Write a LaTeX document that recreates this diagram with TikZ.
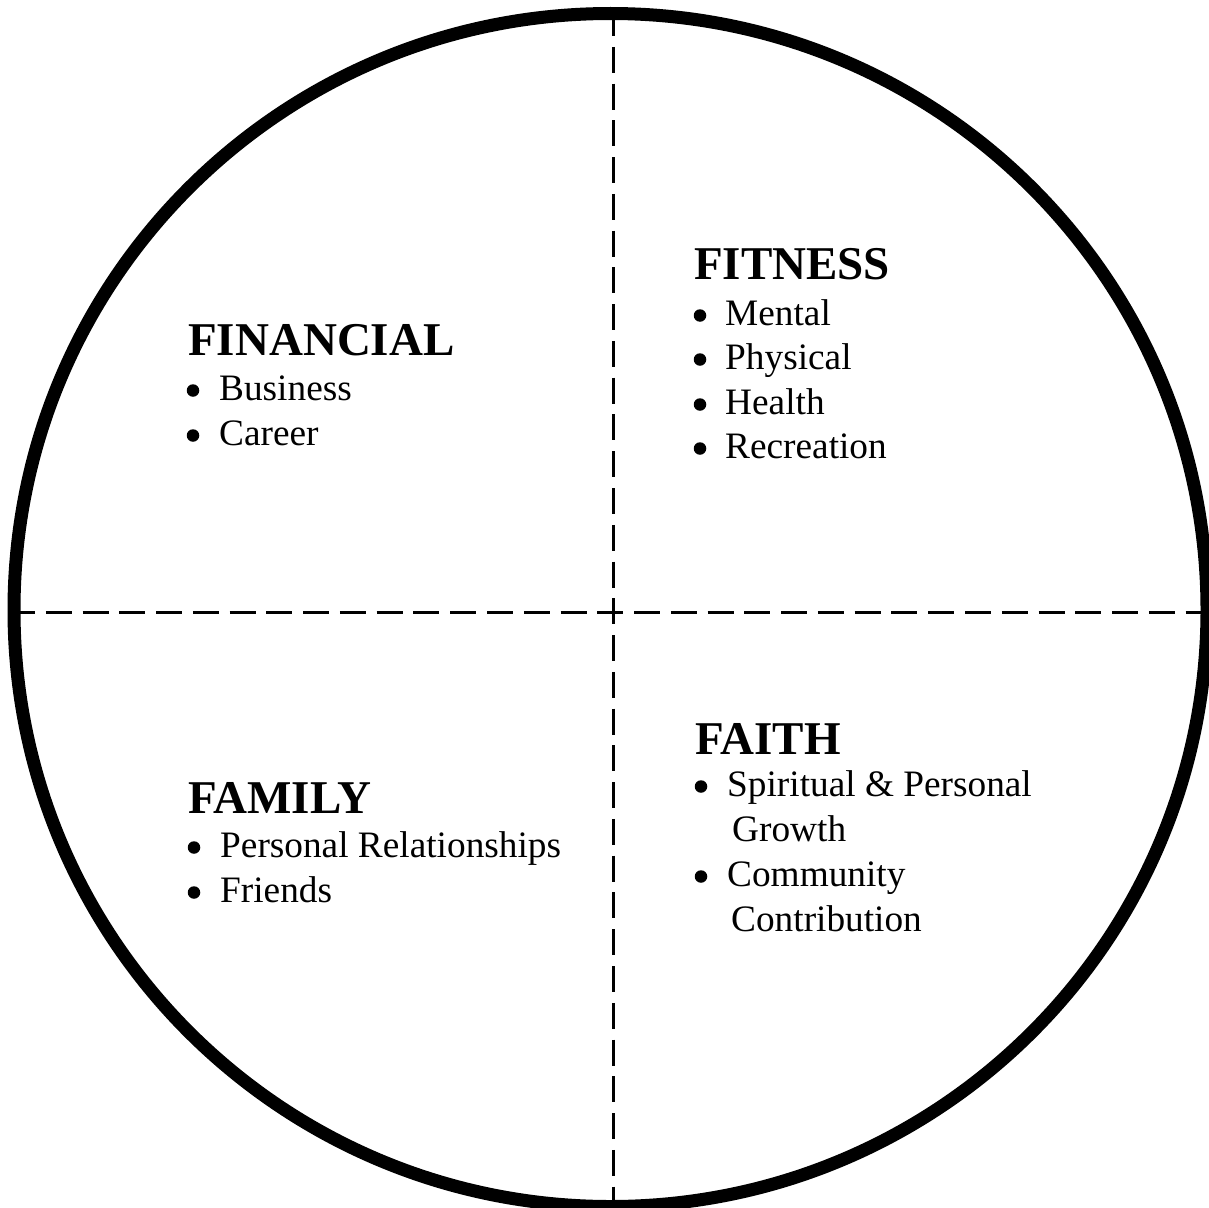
\documentclass[tikz,border=0pt]{standalone}
\usepackage{fontspec}
\setmainfont{Liberation Serif}
\begin{document}
\begin{tikzpicture}[x=1pt,y=-1pt,
  heading/.style={font=\fontsize{47}{47}\selectfont\bfseries, anchor=base west, inner sep=0pt},
  entry/.style={font=\fontsize{37.3}{37}\selectfont, anchor=base west, inner sep=0pt},
  dot/.style={circle, fill=black, inner sep=0pt, minimum size=12.5pt},
  divider/.style={line width=2.6pt, dash pattern=on 26pt off 10.77pt},
  rim/.style={line width=13pt}]
\useasboundingbox (0,0) rectangle (1209,1207);

% quadrant dividers
\coordinate (hl) at (9,612.3);
\coordinate (hr) at (1209,612.3);
\coordinate (vt) at (613.3,10);
\coordinate (vb) at (613.3,1207);
\draw[divider] (hl) -- (hr);
\draw[divider] (vt) -- (vb);

% outer circle
\coordinate (c) at (610.5,610);
\draw[rim] (c) circle[radius=596.5pt];

% FINANCIAL
\node[heading] (fin) at (188,355) {FINANCIAL};
\node[dot] (fin-b1) at (193,390.5) {};
\node[entry] (fin-1) at (219,400) {Business};
\node[dot] (fin-b2) at (193,435.5) {};
\node[entry] (fin-2) at (219,445) {Career};

% FITNESS
\node[heading] (fit) at (694,279) {FITNESS};
\node[dot] (fit-b1) at (700,315.5) {};
\node[entry] (fit-1) at (725,325) {Mental};
\node[dot] (fit-b2) at (700,359.5) {};
\node[entry] (fit-2) at (725,369) {Physical};
\node[dot] (fit-b3) at (700,404.5) {};
\node[entry] (fit-3) at (725,414) {Health};
\node[dot] (fit-b4) at (700,448.5) {};
\node[entry] (fit-4) at (725,458) {Recreation};

% FAMILY
\node[heading] (fam) at (188,813) {FAMILY};
\node[dot] (fam-b1) at (194,847.5) {};
\node[entry] (fam-1) at (220,857) {Personal Relationships};
\node[dot] (fam-b2) at (194,892.5) {};
\node[entry] (fam-2) at (220,902) {Friends};

% FAITH
\node[heading] (fai) at (695,754) {FAITH};
\node[dot] (fai-b1) at (701,786.5) {};
\node[entry] (fai-1) at (727,796) {Spiritual \& Personal};
\node[entry] (fai-1b) at (732,841) {Growth};
\node[dot] (fai-b2) at (701,876.5) {};
\node[entry] (fai-2) at (727,886) {Community};
\node[entry] (fai-2b) at (731,931) {Contribution};
\end{tikzpicture}
\end{document}
